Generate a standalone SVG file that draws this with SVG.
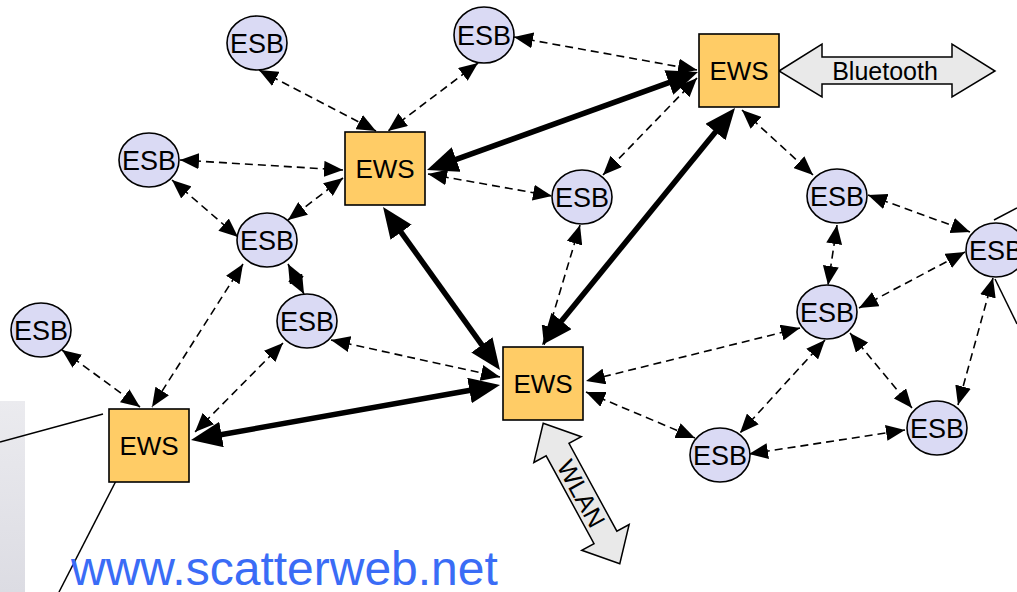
<svg xmlns="http://www.w3.org/2000/svg" width="1017" height="592" viewBox="0 0 1017 592">
  <defs>
    <style>
      .ews rect { fill: #ffcc66; stroke: #000; stroke-width: 1.6; }
      .esb ellipse { fill: #dadaf4; stroke: #000; stroke-width: 1.6; }
      .lbl { font-family: "Liberation Sans", Arial, sans-serif; fill: #000; text-anchor: middle; }
      .ews text { font-size: 26px; }
      .esb text { font-size: 27px; }
      .radio { fill: #e9e9e9; stroke: #000; stroke-width: 1.5; stroke-linejoin: miter; }
      .link { fill: none; stroke: #000; stroke-width: 1.6; stroke-dasharray: 8 5; marker-start: url(#tipS); marker-end: url(#tipS); }
      .trunk { fill: none; stroke: #000; stroke-width: 5.5; marker-start: url(#tipL); marker-end: url(#tipL); }
      .wire { fill: none; stroke: #000; stroke-width: 1.5; }
    </style>
    <marker id="tipS" markerUnits="userSpaceOnUse" markerWidth="19" markerHeight="16" refX="19" refY="8" orient="auto-start-reverse">
      <path d="M0,0 L19,8 L0,16 Z" fill="#000"/>
    </marker>
    <marker id="tipL" markerUnits="userSpaceOnUse" markerWidth="31" markerHeight="26" refX="11" refY="13" orient="auto-start-reverse">
      <path d="M0,0 L31,13 L0,26 Z" fill="#000"/>
    </marker>
    <linearGradient id="panel" x1="0" y1="0" x2="0" y2="1">
      <stop offset="0" stop-color="#ebebef"/>
      <stop offset="1" stop-color="#dcdce3"/>
    </linearGradient>
  </defs>

  <!-- side panel -->
  <rect x="0" y="401" width="25" height="191" fill="url(#panel)"/>

  <!-- plain wires -->
  <g id="wires">
    <line class="wire" x1="0" y1="442" x2="103" y2="414"/>
    <line class="wire" x1="118" y1="477" x2="59" y2="592"/>
    <line class="wire" x1="994" y1="220" x2="1017" y2="208"/>
    <line class="wire" x1="995" y1="279" x2="1017" y2="324"/>
  </g>

  <!-- connectors -->
  <g id="connectors">
    <!-- radio links between sensor boards and gateways -->
    <line class="link" x1="259" y1="70" x2="376" y2="131"/>
    <line class="link" x1="478" y1="63" x2="388" y2="131"/>
    <line class="link" x1="514" y1="37" x2="697" y2="70"/>
    <line class="link" x1="180" y1="160" x2="343" y2="170"/>
    <line class="link" x1="172" y1="180" x2="238" y2="237"/>
    <line class="link" x1="343" y1="178" x2="288" y2="220"/>
    <line class="link" x1="288" y1="264" x2="304" y2="294"/>
    <line class="link" x1="243" y1="264" x2="152" y2="407"/>
    <line class="link" x1="283" y1="343" x2="195" y2="432"/>
    <line class="link" x1="62" y1="350" x2="140" y2="407"/>
    <line class="link" x1="331" y1="340" x2="500" y2="377"/>
    <line class="link" x1="428" y1="174" x2="552" y2="196"/>
    <line class="link" x1="580" y1="225" x2="544" y2="345"/>
    <line class="link" x1="697" y1="78" x2="603" y2="175"/>
    <line class="link" x1="742" y1="110" x2="813" y2="175"/>
    <line class="link" x1="868" y1="195" x2="970" y2="232"/>
    <line class="link" x1="837" y1="225" x2="828" y2="285"/>
    <line class="link" x1="859" y1="308" x2="965" y2="252"/>
    <line class="link" x1="800" y1="328" x2="586" y2="381"/>
    <line class="link" x1="825" y1="340" x2="740" y2="433"/>
    <line class="link" x1="850" y1="333" x2="912" y2="408"/>
    <line class="link" x1="993" y1="278" x2="958" y2="405"/>
    <line class="link" x1="749" y1="454" x2="905" y2="430"/>
    <line class="link" x1="586" y1="392" x2="695" y2="438"/>
    <!-- backbone between gateways -->
    <line class="trunk" x1="445.8" y1="163.2" x2="679.2" y2="78.8"/>
    <line class="trunk" x1="394.7" y1="223.3" x2="488.3" y2="353.8"/>
    <line class="trunk" x1="722.4" y1="123.5" x2="554.6" y2="329.5"/>
    <line class="trunk" x1="210.7" y1="436.5" x2="480.3" y2="388.5"/>
  </g>

  <!-- external radio interfaces -->
  <g id="bluetooth">
    <polygon class="radio" points="779,71 822,44 822,57 952,57 952,44 995,71 952,97 952,84 822,84 822,97"/>
    <text class="lbl" x="885" y="80" font-size="25">Bluetooth</text>
  </g>
  <g id="wlan" transform="translate(581.5,493.5) rotate(61.4)">
    <polygon class="radio" points="-80,0 -50,-27 -50,-13 50,-13 50,-27 80,0 50,27 50,13 -50,13 -50,27"/>
    <text class="lbl" x="0" y="9" font-size="25">WLAN</text>
  </g>

  <!-- gateways -->
  <g id="ews-1" class="ews"><rect x="345" y="132" width="80" height="73"/><text class="lbl" x="385" y="178">EWS</text></g>
  <g id="ews-2" class="ews"><rect x="699" y="34" width="80" height="73"/><text class="lbl" x="739" y="80">EWS</text></g>
  <g id="ews-3" class="ews"><rect x="503" y="347" width="80" height="73"/><text class="lbl" x="543" y="393">EWS</text></g>
  <g id="ews-4" class="ews"><rect x="109" y="409" width="80" height="73"/><text class="lbl" x="149" y="455">EWS</text></g>

  <!-- sensor boards -->
  <g id="esb-1" class="esb"><ellipse cx="257" cy="43" rx="30" ry="27"/><text class="lbl" x="257" y="53">ESB</text></g>
  <g id="esb-2" class="esb"><ellipse cx="484" cy="35" rx="30" ry="28"/><text class="lbl" x="484" y="45">ESB</text></g>
  <g id="esb-3" class="esb"><ellipse cx="149" cy="160" rx="30" ry="27"/><text class="lbl" x="149" y="170">ESB</text></g>
  <g id="esb-4" class="esb"><ellipse cx="267" cy="240" rx="30" ry="27"/><text class="lbl" x="267" y="250">ESB</text></g>
  <g id="esb-5" class="esb"><ellipse cx="307" cy="321" rx="30" ry="27"/><text class="lbl" x="307" y="331">ESB</text></g>
  <g id="esb-6" class="esb"><ellipse cx="41" cy="330" rx="30" ry="27"/><text class="lbl" x="41" y="340">ESB</text></g>
  <g id="esb-7" class="esb"><ellipse cx="582" cy="197" rx="30" ry="27"/><text class="lbl" x="582" y="207">ESB</text></g>
  <g id="esb-8" class="esb"><ellipse cx="837" cy="196" rx="30" ry="27"/><text class="lbl" x="837" y="206">ESB</text></g>
  <g id="esb-9" class="esb"><ellipse cx="827" cy="312" rx="30" ry="27"/><text class="lbl" x="827" y="322">ESB</text></g>
  <g id="esb-10" class="esb"><ellipse cx="996" cy="250" rx="30" ry="27"/><text class="lbl" x="996" y="260">ESB</text></g>
  <g id="esb-11" class="esb"><ellipse cx="937" cy="428" rx="30" ry="27"/><text class="lbl" x="937" y="438">ESB</text></g>
  <g id="esb-12" class="esb"><ellipse cx="720" cy="455" rx="30" ry="27"/><text class="lbl" x="720" y="465">ESB</text></g>

  <!-- project address -->
  <text x="71" y="585" font-family="Liberation Sans, Arial, sans-serif" font-size="48" fill="#3a6cf6">www.scatterweb.net</text>
</svg>
